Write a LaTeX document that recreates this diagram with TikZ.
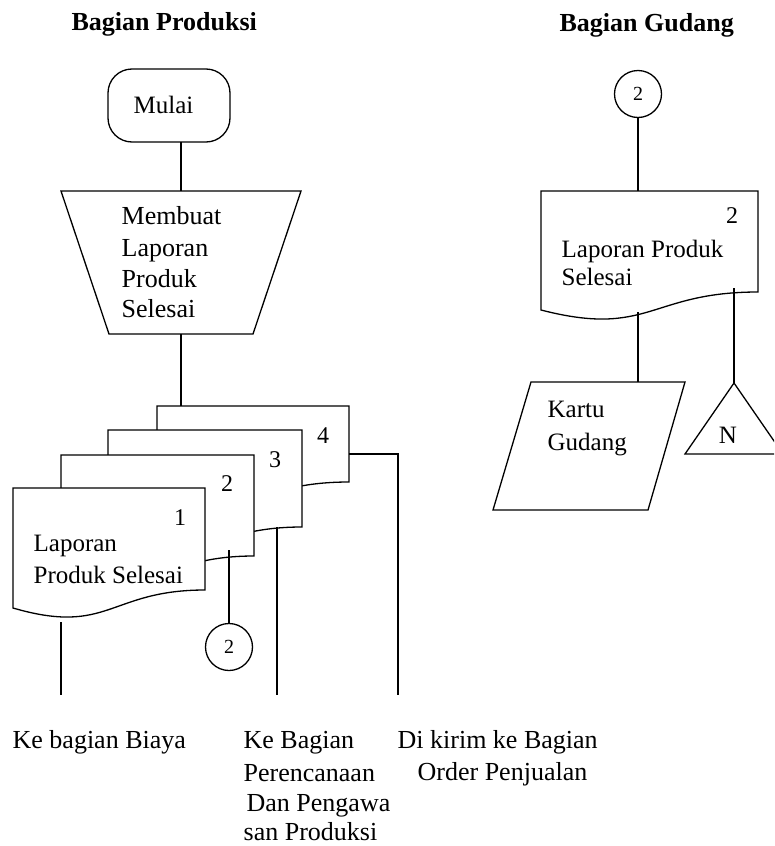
\documentclass[tikz,border=0pt]{standalone}
\usepackage{fontspec}
\setmainfont{Liberation Serif}
\newcommand\docpath[6]{%
  \filldraw[fill=white] (#1,#3) -- (#2,#3) -- (#2,#4)
    .. controls ({(#1+#2)/2},#4) and ({(#1+#2)/2},#6) .. (#1,#5) -- cycle;}
\begin{document}
\begin{tikzpicture}[x=1pt,y=-1pt,line width=1.3pt,line join=miter,
  txt/.style={anchor=base west,inner sep=0pt,font=\fontsize{26}{30}\selectfont},
  dtxt/.style={anchor=base west,inner sep=0pt,font=\fontsize{25}{30}\selectfont},
  num/.style={anchor=base,inner sep=0pt,font=\fontsize{24}{28}\selectfont},
  ttl/.style={anchor=base west,inner sep=0pt,font=\fontsize{26}{30}\selectfont\bfseries},
  conn/.style={draw,fill=white,circle,minimum size=47pt,inner sep=0pt,font=\fontsize{20}{22}\selectfont}]
\clip (0,0) rectangle (774,846);
\fill[white] (0,0) rectangle (774,846);

% titles
\node[ttl] (t1) at (71,30) {Bagian Produksi};
\node[ttl] (t2) at (559,31) {Bagian Gudang};

% --- Bagian Produksi ---
\draw[rounded corners=24pt] (108,69) rectangle (230,142);
\node[dtxt] (mulai) at (133,113) {Mulai};
\coordinate (mulaiB) at (181,142);

\draw (61,191) -- (301,191) -- (253,334) -- (109,334) -- cycle;
\coordinate (trapT) at (181,191);
\coordinate (trapB) at (181,334);
\node[txt] (m1) at (121,224) {Membuat};
\node[txt] (m2) at (121,256) {Laporan};
\node[txt] (m3) at (121,287) {Produk};
\node[txt] (m4) at (121,317) {Selesai};

\draw (mulaiB) -- (trapT);
\coordinate (doc4T) at (181,406);
\draw (trapB) -- (doc4T);

% document stack
\docpath{157}{349}{406}{482}{494.5}{522}
\docpath{108}{302}{430}{527}{543}{571}
\docpath{61}{254}{455}{556}{572.6}{601}
\docpath{13}{205}{488}{590}{608}{636}
\node[num] (n4) at (323,443) {4};
\node[num] (n3) at (275,467) {3};
\node[num] (n2) at (227,491) {2};
\node[num] (n1) at (180,525) {1};
\node[dtxt] (l1) at (33,551) {Laporan};
\node[dtxt] (l2) at (33,583) {Produk Selesai};

% connectors from documents
\coordinate (d1b) at (61,622);
\coordinate (e1) at (61,695);
\draw (d1b) -- (e1);
\node[conn] (c1) at (229,647) {2};
\coordinate (d2b) at (229,550);
\draw (d2b) -- (c1);
\coordinate (d3b) at (277,527);
\coordinate (e3) at (277,695);
\draw (d3b) -- (e3);
\coordinate (d4r) at (349,454);
\coordinate (e4) at (398,695);
\draw (d4r) -| (e4);

% bottom labels
\node[txt] (b1) at (12,748) {Ke bagian Biaya};
\node[txt] (b2a) at (243,748) {Ke Bagian};
\node[txt] (b2b) at (243,781) {Perencanaan};
\node[txt] (b2c) at (246,811) {Dan Pengawa};
\node[txt] (b2d) at (243,840) {san Produksi};
\node[txt] (b3a) at (397,748) {Di kirim ke Bagian};
\node[txt] (b3b) at (417,780) {Order Penjualan};

% --- Bagian Gudang ---
\node[conn] (c2) at (638,94) {2};
\coordinate (gT) at (638,191);
\draw (c2) -- (gT);
\docpath{541}{758}{191}{292}{310}{338}
\node[num] (g2) at (732,223) {2};
\node[dtxt] (g1) at (561,257) {Laporan Produk};
\node[dtxt] (g3) at (561,285) {Selesai};

\draw (531,382) -- (685,382) -- (648,510) -- (493,510) -- cycle;
\coordinate (kT) at (638,382);
\node[dtxt] (k1) at (547,417) {Kartu};
\node[dtxt] (k2) at (547,450) {Gudang};
\coordinate (gB1) at (638,312);
\draw (gB1) -- (kT);

\draw (734,383) -- (783,454) -- (685,454) -- cycle;
\coordinate (nT) at (734,383);
\node[anchor=base,inner sep=0pt,font=\fontsize{25}{30}\selectfont] (nn) at (728,443) {N};
\coordinate (gB2) at (734,288);
\draw (gB2) -- (nT);
\end{tikzpicture}
\end{document}
